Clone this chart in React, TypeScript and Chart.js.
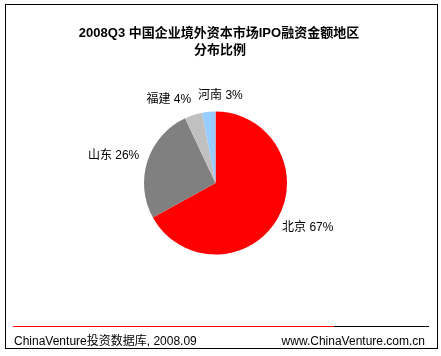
import React, { useEffect, useRef } from "react";
import { Chart, registerables } from "chart.js";

Chart.register(...registerables);

const titleLines = ["2008Q3 中国企业境外资本市场IPO融资金额地区", "分布比例"];
const regions = ["北京", "山东", "福建", "河南"];
const shares = [67, 26, 4, 3];
const sliceColors = ["#ff0000", "#808080", "#c0c0c0", "#99ccff"];
const footerLeft = "ChinaVenture投资数据库, 2008.09";
const footerRight = "www.ChinaVenture.com.cn";

const W = 441;
const H = 356;

const decorPlugin = {
  id: "decor",
  afterDraw(chart: any) {
    const ctx = chart.ctx as CanvasRenderingContext2D;
    ctx.save();
    // border
    ctx.strokeStyle = "#000";
    ctx.lineWidth = 1;
    ctx.strokeRect(5.5, 4.5, 432, 344);
    // title
    ctx.fillStyle = "#000";
    ctx.textAlign = "center";
    ctx.textBaseline = "middle";
    ctx.font = "bold 13px 'Liberation Sans', 'Noto Sans CJK SC', sans-serif";
    ctx.fillText(titleLines[0], 219, 33);
    ctx.fillText(titleLines[1], 220, 50);
    // footer lines
    ctx.beginPath();
    ctx.strokeStyle = "#ff0000";
    ctx.moveTo(13, 326.5);
    ctx.lineTo(334, 326.5);
    ctx.stroke();
    ctx.beginPath();
    ctx.strokeStyle = "#000";
    ctx.moveTo(334, 326.5);
    ctx.lineTo(429, 326.5);
    ctx.stroke();
    ctx.font = "12px 'Liberation Sans', 'Noto Sans CJK SC', sans-serif";
    ctx.textBaseline = "alphabetic";
    ctx.textAlign = "left";
    ctx.fillText(footerLeft, 14, 345);
    ctx.textAlign = "right";
    ctx.fillText(footerRight, 425, 345);

    // pie labels
    const meta = chart.getDatasetMeta(0);
    ctx.font = "12px 'Liberation Sans', 'Noto Sans CJK SC', sans-serif";
    const total = shares.reduce((a, b) => a + b, 0);
    const boxes: { text: string; cx: number; cy: number; w: number; h: number }[] = [];
    meta.data.forEach((arc: any, i: number) => {
      const { x, y, startAngle, endAngle, outerRadius } = arc.getProps(
        ["x", "y", "startAngle", "endAngle", "outerRadius"],
        true
      );
      const mid = (startAngle + endAngle) / 2;
      const dx = Math.cos(mid);
      const dy = Math.sin(mid);
      const r = outerRadius + 10;
      const ax = x + dx * r;
      const ay = y + dy * r;
      const pct = Math.round((shares[i] / total) * 100);
      const text = `${regions[i]} ${pct}%`;
      const w = ctx.measureText(text).width;
      const h = 12;
      boxes.push({ text, cx: ax + (dx * w) / 2, cy: ay + (dy * h) / 2, w, h });
    });
    // resolve overlaps horizontally
    for (let iter = 0; iter < 5; iter++) {
      for (let i = 0; i < boxes.length; i++) {
        for (let j = i + 1; j < boxes.length; j++) {
          const a = boxes[i];
          const b = boxes[j];
          const needX = (a.w + b.w) / 2 + 7;
          const overlapY = Math.abs(a.cy - b.cy) < (a.h + b.h) / 2;
          const dist = Math.abs(a.cx - b.cx);
          if (overlapY && dist < needX) {
            const push = (needX - dist) / 2;
            if (a.cx <= b.cx) {
              a.cx -= push;
              b.cx += push;
            } else {
              a.cx += push;
              b.cx -= push;
            }
          }
        }
      }
    }
    ctx.textAlign = "center";
    ctx.textBaseline = "middle";
    ctx.fillStyle = "#000";
    boxes.forEach((b) => ctx.fillText(b.text, b.cx, b.cy));
    ctx.restore();
  },
};

export default function App() {
  const ref = useRef<HTMLCanvasElement>(null);
  useEffect(() => {
    document.body.style.margin = "0";
    document.body.style.background = "#fff";
    const chart = new Chart(ref.current!, {
      type: "pie",
      data: {
        labels: regions,
        datasets: [
          {
            data: shares,
            backgroundColor: sliceColors,
            borderWidth: 0,
          },
        ],
      },
      options: {
        responsive: false,
        animation: false,
        devicePixelRatio: 1,
        layout: {
          padding: { left: 144, right: 154, top: 111.5, bottom: 101.5 },
        },
        plugins: {
          legend: { display: false },
          title: { display: false },
          tooltip: { enabled: false },
        },
      },
      plugins: [decorPlugin],
    });
    return () => chart.destroy();
  }, []);
  return (
    <div style={{ width: W, height: H, background: "#fff" }}>
      <canvas ref={ref} width={W} height={H} style={{ display: "block" }} />
    </div>
  );
}
